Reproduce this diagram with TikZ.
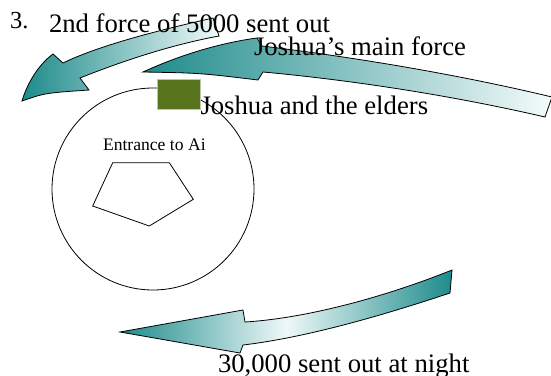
\documentclass[tikz,border=0pt]{standalone}
\usepackage{fontspec}
\setmainfont{Liberation Serif}
\definecolor{tealdark}{RGB}{30,139,139}
\definecolor{teallight}{RGB}{238,248,248}
\definecolor{elders}{RGB}{88,117,30}
\tikzset{
  blockarrow/.style={draw=black, line width=0.8pt, line join=miter},
  label/.style={anchor=base west, inner sep=0pt, outer sep=0pt, font=\fontsize{26.7}{32}\selectfont},
}
\begin{document}
\begin{tikzpicture}[x=1pt, y=-1pt]
  \useasboundingbox (0,0) rectangle (551,375);

  % the city and its gate
  \node[draw=black, line width=0.8pt, circle, minimum size=202pt, inner sep=0pt] (ai) at (153,189) {};
  \draw[line width=0.8pt] (112.7,162.7) -- (169.3,162.7) -- (193.3,199.3)
        -- (149.3,226) -- (92.7,206) -- cycle;

  % second force of 5000
  \shade[blockarrow, left color=tealdark, right color=teallight!80!white]
    (22,101) .. controls (45,93) .. (89,90) -- (80,78)
    .. controls (120,62) and (170,45) .. (219,36) -- (213,18)
    .. controls (160,30) and (100,45) .. (63,63) -- (53,54)
    .. controls (38,65) and (27,84) .. (22,101) -- cycle;

  % main force
  \shade[blockarrow, left color=tealdark, right color=teallight!60!white]
    (143,72) .. controls (180,55) and (220,43) .. (257,38) -- (262,46)
    .. controls (360,58) and (460,75) .. (552,97) -- (545,117)
    .. controls (450,95) and (350,80) .. (263,72) -- (258,80)
    .. controls (200,73) .. (143,72) -- cycle;

  % 30,000 at night
  \shade[blockarrow, left color=tealdark, right color=tealdark, middle color=teallight]
    (120,332) -- (243,310) -- (245,322)
    .. controls (310,318) and (390,295) .. (452,270) -- (450,293)
    .. controls (390,313) and (310,337) .. (243,345) -- (240,353) -- cycle;

  % Joshua and the elders
  \node[fill=elders, draw=elders!40!white, line width=0.6pt, minimum width=43pt,
        minimum height=30pt, inner sep=0pt, anchor=north west] (elderbox) at (157,79) {};

  % labels
  \node[label, font=\fontsize{24.5}{28}\selectfont] (num) at (10,28) {3.};
  \node[label] (second) at (49,32) {2nd force of 5000 sent out};
  \node[label] (main) at (254,55) {Joshua’s main force};
  \node[label] (joshua) at (200.5,114) {Joshua and the elders};
  \node[label] (night) at (218,372) {30,000 sent out at night};
  \node[label, font=\fontsize{17.6}{21}\selectfont] (gate) at (103,150.7) {Entrance to Ai};
\end{tikzpicture}
\end{document}
